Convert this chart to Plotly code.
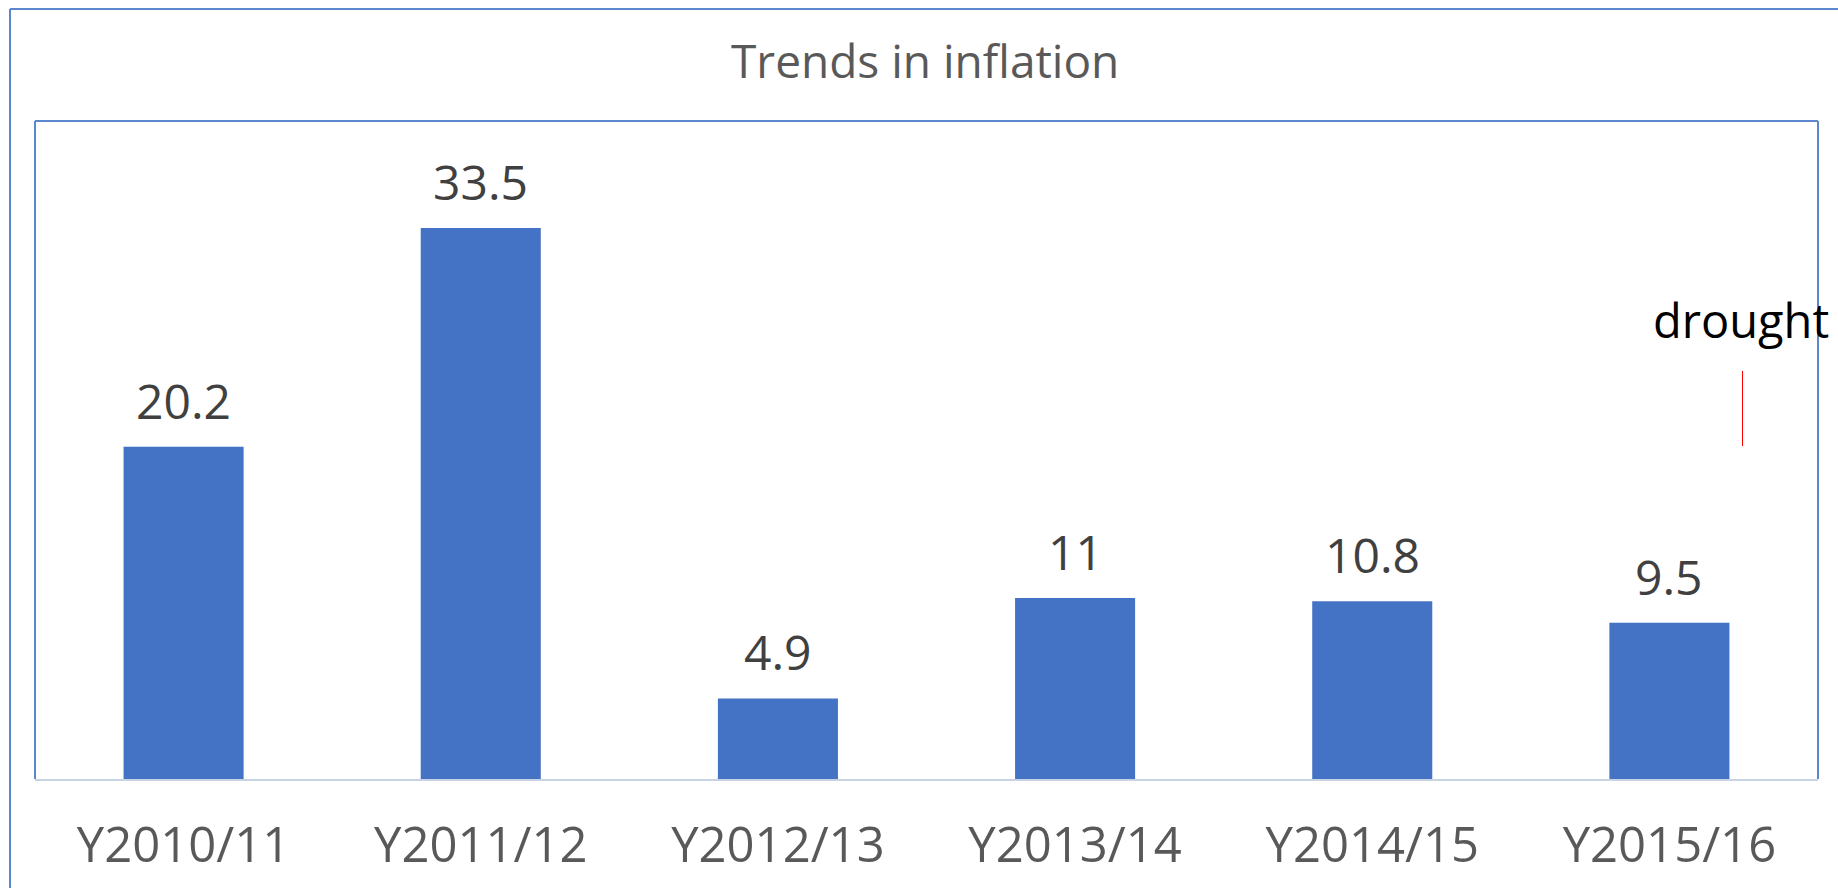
import plotly.graph_objects as go

# ---- data ----
categories = ["Y2010/11", "Y2011/12", "Y2012/13", "Y2013/14", "Y2014/15", "Y2015/16"]
inflation = [20.2, 33.5, 4.9, 11, 10.8, 9.5]
value_labels = ["20.2", "33.5", "4.9", "11", "10.8", "9.5"]
title_text = "Trends in inflation"
note_text = "drought"

# ---- geometry (pixels) ----
W, H = 1838, 888
PLOT_L, PLOT_R, PLOT_T, PLOT_B = 35, 1818, 121, 779
FRAME_L, FRAME_T = 10, 9
FRAME_COLOR = "#5b87cf"
FONT = "Open Sans"


def px(x):
    return x / W


def py(y):
    return 1 - y / H


fig = go.Figure(
    go.Bar(
        x=categories,
        y=inflation,
        marker=dict(color="#4472C4", line=dict(width=0)),
        hoverinfo="skip",
    )
)

# value labels above bars
for cat, val, lab in zip(categories, inflation, value_labels):
    fig.add_annotation(
        x=cat, y=val, text=lab, showarrow=False,
        xanchor="center", yanchor="bottom", yshift=12,
        font=dict(family=FONT, size=48, color="#404040"),
    )

# title
fig.add_annotation(
    x=px(925), y=py(93), xref="paper", yref="paper",
    text=title_text, showarrow=False, xanchor="center", yanchor="bottom",
    font=dict(family=FONT, size=46, color="#595959"),
)

# drought note + red marker line
fig.add_annotation(
    x=px(1741), y=py(354), xref="paper", yref="paper",
    text=note_text, showarrow=False, xanchor="center", yanchor="bottom",
    font=dict(family=FONT, size=47, color="#000000"),
)
fig.add_shape(type="line", xref="paper", yref="paper",
              x0=px(1742.5), x1=px(1742.5), y0=py(371), y1=py(446),
              line=dict(color="#ff0000", width=1))

# outer frame (left and top edges)
fig.add_shape(type="line", xref="paper", yref="paper",
              x0=px(FRAME_L), x1=px(FRAME_L), y0=py(FRAME_T), y1=0,
              line=dict(color=FRAME_COLOR, width=2))
fig.add_shape(type="line", xref="paper", yref="paper",
              x0=px(FRAME_L), x1=1, y0=py(FRAME_T), y1=py(FRAME_T),
              line=dict(color=FRAME_COLOR, width=2))

# plot-area border (left, top, right)
fig.add_shape(type="line", xref="paper", yref="paper",
              x0=px(PLOT_L), x1=px(PLOT_L), y0=py(PLOT_T), y1=py(PLOT_B),
              line=dict(color=FRAME_COLOR, width=2))
fig.add_shape(type="line", xref="paper", yref="paper",
              x0=px(PLOT_L), x1=px(PLOT_R), y0=py(PLOT_T), y1=py(PLOT_T),
              line=dict(color=FRAME_COLOR, width=2))
fig.add_shape(type="line", xref="paper", yref="paper",
              x0=px(PLOT_R), x1=px(PLOT_R), y0=py(PLOT_T), y1=py(PLOT_B),
              line=dict(color=FRAME_COLOR, width=2))

fig.update_layout(
    width=W, height=H,
    margin=dict(l=0, r=0, t=0, b=0, autoexpand=False),
    paper_bgcolor="white", plot_bgcolor="white",
    showlegend=False,
    bargap=0.596,
    xaxis=dict(
        domain=[px(PLOT_L), px(PLOT_R)],
        automargin=False,
        showline=True, linecolor="#c8d3e4", linewidth=2,
        showgrid=False, zeroline=False,
        ticks="outside", ticklen=22, tickcolor="rgba(0,0,0,0)",
        tickfont=dict(family=FONT, size=49, color="#595959"),
        fixedrange=True,
    ),
    yaxis=dict(
        domain=[py(PLOT_B), py(PLOT_T)],
        automargin=False,
        range=[0, 40], visible=False, showgrid=False, zeroline=False,
        fixedrange=True,
    ),
)

fig.write_html("out.html", config={"displayModeBar": False},
               post_script="document.body.style.margin='0';document.body.style.overflow='hidden';")
